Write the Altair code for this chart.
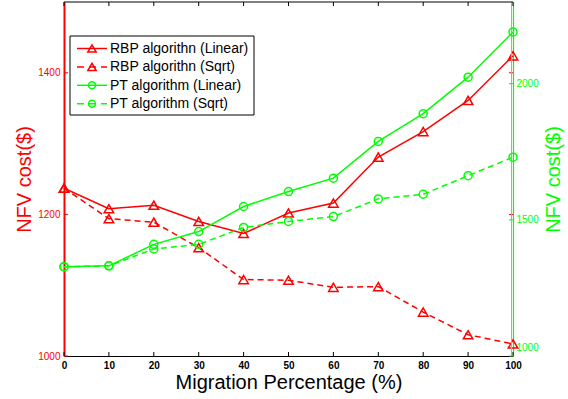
import altair as alt
import pandas as pd

# Migration percentage on the x axis
pct = [0, 10, 20, 30, 40, 50, 60, 70, 80, 90, 100]

# NFV cost, RBP algorithm (left axis)
rbp_linear = [1237, 1208, 1213, 1190, 1173, 1202, 1216, 1281, 1317, 1361, 1424]
rbp_sqrt = [1237, 1194, 1189, 1153, 1108, 1107, 1097, 1098, 1062, 1030, 1017]

# NFV cost, PT algorithm (right axis)
pt_linear = [1328, 1331, 1410, 1457, 1549, 1604, 1653, 1788, 1890, 2024, 2190]
pt_sqrt = [1328, 1331, 1393, 1410, 1472, 1494, 1512, 1577, 1594, 1662, 1730]

series_names = [
    "RBP algorithn (Linear)",
    "RBP algorithn (Sqrt)",
    "PT algorithm (Linear)",
    "PT algorithm (Sqrt)",
]

x_ticks = pct
left_ticks = [1000, 1200, 1400]
right_ticks = [1000, 1500, 2000]
left_domain = [1000, 1500]
right_domain = [1000, 2300]

RED = "#ff0000"
GREEN = "#00ff00"
FONT = "Liberation Sans"
W, H = 449, 354


def frame(values, name):
    return pd.DataFrame({"pct": pct, "cost": values, "series": name})


rbp_lin_df = frame(rbp_linear, series_names[0])
rbp_sqrt_df = frame(rbp_sqrt, series_names[1])
pt_lin_df = frame(pt_linear, series_names[2])
pt_sqrt_df = frame(pt_sqrt, series_names[3])

x_enc = alt.X(
    "pct:Q",
    scale=alt.Scale(domain=[0, 100], nice=False, zero=False),
    axis=alt.Axis(
        values=x_ticks, format="d", title="Migration Percentage (%)",
        tickSize=0, labelPadding=4, labelFlush=False, labelFont=FONT,
        labelFontSize=10, labelFontWeight="bold", labelColor="black",
        titleFont=FONT, titleFontSize=20, titleFontWeight="normal",
        titleColor="black", titlePadding=2, domainColor="black",
        domainWidth=1, grid=False,
    ),
)

y_left = alt.Y(
    "cost:Q",
    scale=alt.Scale(domain=left_domain, nice=False, zero=False),
    axis=alt.Axis(
        values=left_ticks, format="d", orient="left", title="NFV cost($)",
        tickSize=0, labelPadding=4, labelFlush=False, labelFont=FONT,
        labelFontSize=10, labelColor=RED, titleFont=FONT, titleFontSize=20,
        titleFontWeight="normal", titleColor=RED, titlePadding=3,
        domainColor=RED, domainWidth=2, grid=False,
    ),
)

y_right = alt.Y(
    "cost:Q",
    scale=alt.Scale(domain=right_domain, nice=False, zero=False),
    axis=alt.Axis(
        values=right_ticks, format="d", orient="right", title="NFV cost($)",
        tickSize=0, labelPadding=3, labelFlush=True, labelFlushOffset=-4,
        labelFont=FONT, labelFontSize=10, labelColor=GREEN, titleFont=FONT,
        titleFontSize=20, titleFontWeight="normal", titleColor=GREEN,
        titleAngle=270, titleBaseline="top", titlePadding=5,
        domainColor=GREEN, domainWidth=1.2, grid=False,
    ),
)

line_kw = dict(strokeWidth=1.5)
dash = [6, 4]

# Left-axis group: RBP series plus inward ticks
red_group = alt.layer(
    alt.Chart(rbp_sqrt_df).mark_line(color=RED, strokeDash=dash, **line_kw)
    .encode(x=x_enc, y=y_left),
    alt.Chart(rbp_lin_df).mark_line(color=RED, **line_kw)
    .encode(x=x_enc, y=y_left),
    alt.Chart(rbp_sqrt_df).mark_point(shape="triangle-up", filled=False,
                                      size=90, color=RED, strokeWidth=1.5,
                                      opacity=1)
    .encode(x=x_enc, y=y_left),
    alt.Chart(rbp_lin_df).mark_point(shape="triangle-up", filled=False,
                                     size=90, color=RED, strokeWidth=1.5,
                                     opacity=1)
    .encode(x=x_enc, y=y_left),
    alt.Chart(pd.DataFrame({"cost": left_ticks})).mark_rule(color=RED)
    .encode(y=y_left, x=alt.value(0), x2=alt.value(4)),
    alt.Chart(pd.DataFrame({"cost": left_ticks[1:]})).mark_rule(color=RED)
    .encode(y=y_left, x=alt.value(W - 4), x2=alt.value(W)),
    alt.Chart(pd.DataFrame({"pct": x_ticks})).mark_rule(color="black")
    .encode(x=x_enc, y=alt.value(H), y2=alt.value(H - 4)),
    alt.Chart(pd.DataFrame({"pct": x_ticks})).mark_rule(color="black")
    .encode(x=x_enc, y=alt.value(0), y2=alt.value(4)),
)

# Right-axis group: PT series plus inward ticks
green_group = alt.layer(
    alt.Chart(pd.DataFrame({"k": [0]})).mark_rule(color="#c8a67e")
    .encode(x=alt.value(W - 1.5), y=alt.value(0), y2=alt.value(H)),
    alt.Chart(pt_sqrt_df).mark_line(color=GREEN, strokeDash=dash, **line_kw)
    .encode(x=x_enc, y=y_right),
    alt.Chart(pt_lin_df).mark_line(color=GREEN, **line_kw)
    .encode(x=x_enc, y=y_right),
    alt.Chart(pt_sqrt_df).mark_point(shape="circle", filled=False, size=64,
                                     color=GREEN, strokeWidth=1.5, opacity=1)
    .encode(x=x_enc, y=y_right),
    alt.Chart(pt_lin_df).mark_point(shape="circle", filled=False, size=64,
                                    color=GREEN, strokeWidth=1.5, opacity=1)
    .encode(x=x_enc, y=y_right),
    alt.Chart(pd.DataFrame({"cost": right_ticks})).mark_rule(color=GREEN)
    .encode(y=y_right, x=alt.value(W - 4), x2=alt.value(W)),
)

# Boxed legend in the upper left corner
one = pd.DataFrame({"k": [0]})
legend_layers = [
    alt.Chart(one).mark_rect(fill="white", stroke="black", strokeWidth=1)
    .encode(x=alt.value(6), x2=alt.value(190), y=alt.value(34),
            y2=alt.value(113)),
    alt.Chart(one).mark_rule(color="black")
    .encode(x=alt.value(0), x2=alt.value(W), y=alt.value(0)),
]
styles = [
    (RED, None, "triangle-up", 70),
    (RED, [7, 5], "triangle-up", 70),
    (GREEN, None, "circle", 49),
    (GREEN, [7, 5], "circle", 49),
]
for i, (name, (col, dsh, shp, sz)) in enumerate(zip(series_names, styles)):
    yy = 46.5 + 18.4 * i
    rule_kw = dict(color=col, strokeWidth=1.5)
    if dsh:
        rule_kw["strokeDash"] = dsh
    legend_layers += [
        alt.Chart(one).mark_rule(**rule_kw)
        .encode(x=alt.value(13), x2=alt.value(43), y=alt.value(yy)),
        alt.Chart(one).mark_point(shape=shp, filled=False, size=sz, color=col,
                                  strokeWidth=1.5, opacity=1)
        .encode(x=alt.value(28), y=alt.value(yy)),
        alt.Chart(one).mark_text(text=name, align="left", baseline="middle",
                                 font=FONT, fontSize=14, color="black")
        .encode(x=alt.value(46), y=alt.value(yy + 0.5)),
    ]

chart = (
    alt.layer(red_group, green_group, *legend_layers)
    .resolve_scale(y="independent")
    .properties(
        width=W, height=H,
        autosize=alt.AutoSizeParams(type="none"),
        padding={"left": 64, "top": 2, "right": 55, "bottom": 43},
        background="white",
    )
    .configure_view(stroke=None)
)

chart.save("out.html", embed_options={"renderer": "svg", "actions": False})
